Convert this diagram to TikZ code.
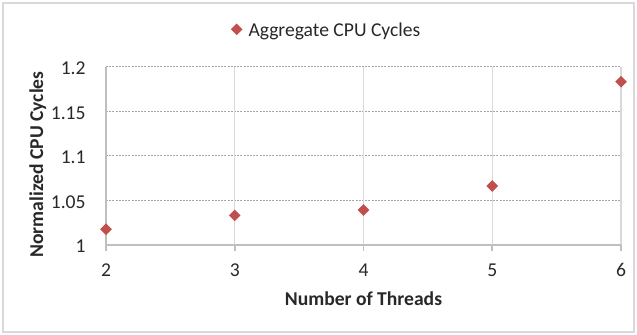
\documentclass[tikz,border=0pt]{standalone}
\usepackage{fontspec}
\setmainfont{Carlito}
\usetikzlibrary{shapes.geometric,positioning}
\definecolor{cycleRed}{RGB}{192,80,77}
\definecolor{frameGray}{RGB}{217,217,217}
\definecolor{dashGray}{RGB}{165,165,165}
\definecolor{axisGray}{RGB}{191,191,191}
\definecolor{textDark}{RGB}{40,40,40}

\begin{document}
\begin{tikzpicture}[x=0.5pt,y=0.5pt,font=\fontsize{9.8}{12}\selectfont,text=textDark,
          cpuPoint/.style={
            diamond,
            fill=cycleRed,
            inner sep=0pt,
            minimum size=6pt},
          tickLabel/.style={inner sep=0pt},
          axisTitle/.style={
            inner sep=0pt,
            font=\fontsize{9.8}{12}\selectfont\bfseries},
          hGrid/.style={dashGray,line width=0.5pt,dash pattern=on 1pt off 0.6pt},
          vGrid/.style={frameGray,line width=0.6pt},
          axisLine/.style={axisGray,line width=0.8pt} ]

          \useasboundingbox (0,0) rectangle (637,335);
          \draw[frameGray,line width=0.6pt] (3,3) rectangle (634,332);

          \node[cpuPoint] (legendMark) at (236.7,305.7) {};
          \node[tickLabel, right=2.5pt of legendMark, yshift=-0.8pt] (legendText) {Aggregate CPU Cycles};

          \node[axisTitle, rotate=90, anchor=base] (yTitle) at (43,170.5) {Normalized CPU Cycles};

          \begin{scope}[x=64.375pt,y=445pt,shift={(-75.75pt,-400pt)}]
            \foreach \yv in {1.05,1.1,1.15,1.2}
              \draw[hGrid] (2,\yv) -- (6,\yv);
            \foreach \xv in {3,4,5,6}
              \draw[vGrid] (\xv,1) -- (\xv,1.2);
            \draw[axisLine] (2,1.2) -- (2,1) -- (6,1);
            \foreach \xv in {2,...,6}
              \draw[axisLine] (\xv,1) -- ++(0,-3pt);

            \foreach \yv [count=\i] in {1,1.05,1.1,1.15,1.2}
              \node[tickLabel, anchor=east, xshift=-10pt, yshift=-0.75pt] (ylab\i) at (2,\yv) {\yv};
            \foreach \xv in {2,...,6}
              \node[tickLabel, anchor=base, yshift=-16pt] (xlab\xv) at (\xv,1) {\xv};

            \node[axisTitle, anchor=base, yshift=-30.5pt] (xTitle) at (4,1) {Number of Threads};

            \foreach \xv/\yv in {2/1.0176,3/1.0333,4/1.0393,5/1.0663,6/1.1835}
              \node[cpuPoint] (pt\xv) at (\xv,\yv) {};
          \end{scope}
        \end{tikzpicture}
\end{document}
